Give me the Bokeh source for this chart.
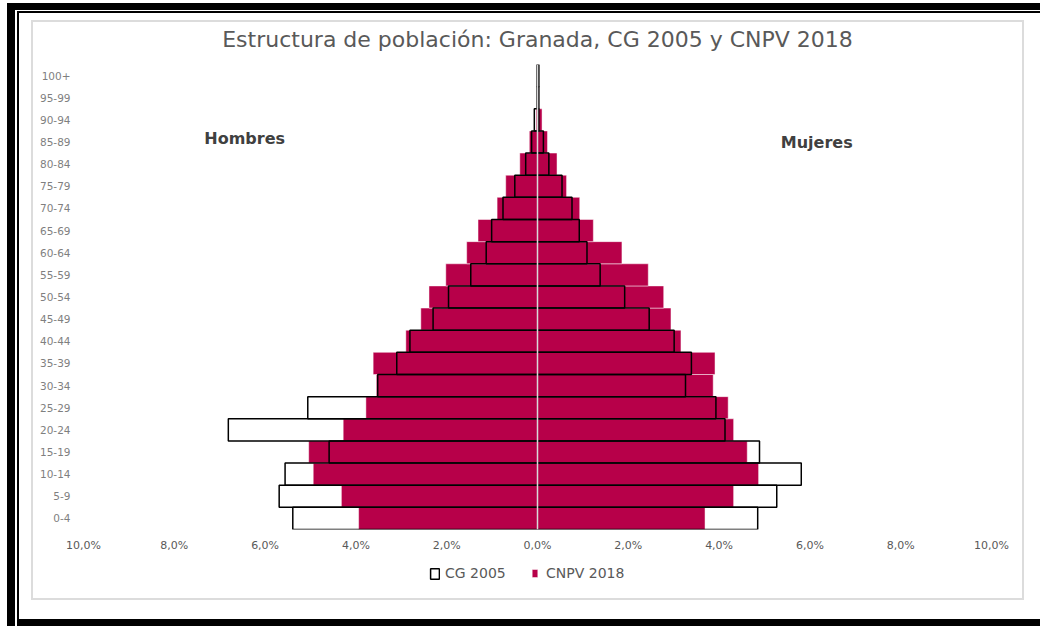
from bokeh.plotting import figure
from bokeh.layouts import column
from bokeh.models import (ColumnDataSource, FactorRange, Range1d, FixedTicker, CustomJSTickFormatter,
                          Legend, LegendItem, Span)
from bokeh.core.properties import value
from bokeh.embed import file_html
from bokeh.resources import INLINE

# ---------------- data (percent of total population) ----------------
ages = ["0-4", "5-9", "10-14", "15-19", "20-24", "25-29", "30-34", "35-39", "40-44",
        "45-49", "50-54", "55-59", "60-64", "65-69", "70-74", "75-79", "80-84",
        "85-89", "90-94", "95-99", "100+"]

men_2005 = [5.39, 5.69, 5.56, 4.59, 6.81, 5.06, 3.52, 3.10, 2.81, 2.30, 1.96,
            1.47, 1.13, 1.01, 0.76, 0.50, 0.26, 0.13, 0.07, 0.01, 0.01]
women_2005 = [4.85, 5.27, 5.81, 4.89, 4.13, 3.93, 3.26, 3.39, 3.01, 2.46, 1.92,
              1.38, 1.09, 0.92, 0.76, 0.54, 0.25, 0.13, 0.03, 0.03, 0.03]
men_2018 = [3.94, 4.32, 4.94, 5.04, 4.28, 3.78, 3.55, 3.62, 2.90, 2.57, 2.39,
            2.02, 1.56, 1.31, 0.89, 0.70, 0.39, 0.18, 0.03, 0.01, 0.00]
women_2018 = [3.69, 4.32, 4.87, 4.62, 4.32, 4.20, 3.87, 3.91, 3.16, 2.94, 2.78,
              2.44, 1.86, 1.23, 0.93, 0.64, 0.43, 0.22, 0.10, 0.02, 0.01]

x_ticks = [-10, -8, -6, -4, -2, 0, 2, 4, 6, 8, 10]
title_text = "Estructura de población: Granada, CG 2005 y CNPV 2018"
series_names = ["CG 2005", "CNPV 2018"]
side_labels = ["Hombres", "Mujeres"]

PINK = "#B70049"
GREY_TXT = "#595959"
FONT = "DejaVu Sans"

src_2005 = ColumnDataSource(dict(y=ages, left=[-v for v in men_2005], right=women_2005))
src_2018 = ColumnDataSource(dict(y=ages, left=[-v for v in men_2018], right=women_2018))

# page decoration (black screenshot frame + light grey chart-area border) via CSS
frame_css = {
    "background-color": "white",
    "background-image": ", ".join(["linear-gradient(#000,#000)"] * 5 +
                                  ["linear-gradient(#dcdcdc,#dcdcdc)"] * 4),
    "background-position": ("7px 3px, 17px 11px, 7px 3px, 17px 11px, 19px 619px, "
                            "31px 20px, 31px 598px, 31px 20px, 1022px 20px"),
    "background-size": ("1033px 7px, 1023px 2px, 8px 623px, 2px 615px, 1021px 7px, "
                        "993px 2px, 993px 2px, 2px 580px, 2px 580px"),
    "background-repeat": "no-repeat",
}

p = figure(width=1040, height=556, output_backend="svg", toolbar_location=None,
           y_range=FactorRange(factors=ages), x_range=Range1d(-10, 10),
           min_border_left=83, min_border_right=49, min_border_top=64, min_border_bottom=27,
           title=title_text)
p.background_fill_color = "white"
p.border_fill_alpha = 0
p.outline_line_color = None
p.grid.visible = False

p.title.align = "center"
p.title.text_font = FONT
p.title.text_font_style = "normal"
p.title.text_font_size = "22px"
p.title.text_color = GREY_TXT
p.title.standoff = 25

# ---- bars ----
bar18 = dict(fill_color=PINK, line_color="white", line_width=0.8, line_alpha=0.6)
bar05 = dict(fill_color=None, fill_alpha=0, line_color="black", line_width=1.5)
r18 = p.hbar(y="y", left="left", right="right", height=1.0, source=src_2018, **bar18)
r05 = p.hbar(y="y", left="left", right="right", height=1.0, source=src_2005, **bar05)

p.add_layout(Span(location=0, dimension="height", line_color="#d9d9d9", line_width=1.5,
                  level="overlay"))

# ---- axes ----
xa = p.xaxis[0]
xa.ticker = FixedTicker(ticks=x_ticks)
xa.formatter = CustomJSTickFormatter(code="return Math.abs(tick).toFixed(1).replace('.', ',') + '%';")
xa.axis_line_color = None
xa.major_tick_line_color = None
xa.minor_tick_line_color = None
xa.major_label_standoff = 3
xa.major_label_text_font = FONT
xa.major_label_text_font_size = "11px"
xa.major_label_text_color = GREY_TXT

ya = p.yaxis[0]
ya.axis_line_color = None
ya.major_tick_line_color = None
ya.minor_tick_line_color = None
ya.major_label_standoff = 7
ya.major_label_text_font = FONT
ya.major_label_text_font_size = "10.5px"
ya.major_label_text_color = "#7f7f7f"

# ---- side labels ----
p.text(x=[-6.45], y=["85-89"], text=[side_labels[0]], text_align="center", text_baseline="middle",
       y_offset=-4, text_font=value(FONT), text_font_style="bold", text_font_size="16px",
       text_color="#404040")
p.text(x=[6.15], y=["85-89"], text=[side_labels[1]], text_align="center", text_baseline="middle",
       text_font=value(FONT), text_font_style="bold", text_font_size="16px", text_color="#404040")

# ---- legend strip below the chart ----
q = figure(width=1040, height=70, output_backend="svg", toolbar_location=None,
           x_range=Range1d(0, 1), y_range=Range1d(0, 1),
           x_axis_location=None, y_axis_location=None, min_border=0)
q.grid.visible = False
q.outline_line_color = None
q.background_fill_alpha = 0
q.border_fill_alpha = 0
# legend-key renderers (kept outside the visible range of this strip)
k05 = q.hbar(y=[-5], left=[0], right=[0], height=1.0, **bar05)
k18 = q.hbar(y=[-5], left=[0], right=[0], height=1.0, **bar18)

common = dict(orientation="horizontal", label_height=13,
              label_text_font=FONT, label_text_font_size="14px", label_text_color=GREY_TXT,
              border_line_color=None, background_fill_alpha=0, margin=0, padding=4)
leg1 = Legend(items=[LegendItem(label=series_names[0], renderers=[k05])],
              location=(346, 45), glyph_width=11, glyph_height=13, label_standoff=5, **common)
leg2 = Legend(items=[LegendItem(label=series_names[1], renderers=[k18])],
              location=(448, 45), glyph_width=7, glyph_height=10, label_standoff=8, **common)
q.add_layout(leg1, "center")
q.add_layout(leg2, "center")

layout = column(p, q, spacing=0, styles=frame_css)

open("out.html", "w").write(file_html(layout, INLINE))
